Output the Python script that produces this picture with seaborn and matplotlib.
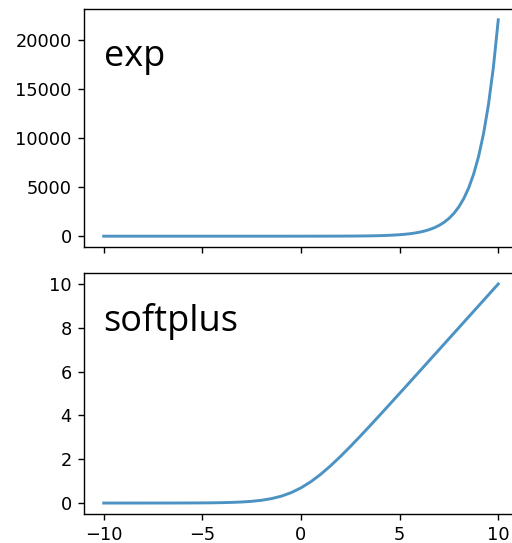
import matplotlib
matplotlib.use("Agg")
import matplotlib.pyplot as plt
import seaborn as sns
import pandas as pd

x_exp = [-10, -9.5, -9, -8.5, -8, -7.5, -7, -6.5, -6, -5.5, -5, -4.5, -4, -3.5, -3, -2.5,
         -2, -1.5, -1, -0.5, 0, 0.5, 1, 1.5, 2, 2.5, 3, 3.5, 4, 4.5, 5, 5.25, 5.5, 5.75,
         6, 6.25, 6.5, 6.75, 7, 7.25, 7.5, 7.75, 8, 8.25, 8.5, 8.75, 9, 9.25, 9.5, 9.75, 10]
y_exp = [4.5e-5, 7.5e-5, 1.23e-4, 2.03e-4, 3.35e-4, 5.53e-4, 9.12e-4, 0.0015, 0.00248,
         0.00409, 0.00674, 0.0111, 0.0183, 0.0302, 0.0498, 0.0821, 0.135, 0.223, 0.368,
         0.607, 1.0, 1.65, 2.72, 4.48, 7.39, 12.2, 20.1, 33.1, 54.6, 90.0, 148.4, 190.6,
         244.7, 314.2, 403.4, 518.0, 665.1, 854.1, 1096.6, 1408.1, 1808.0, 2321.6, 2981.0,
         3827.6, 4914.8, 6310.7, 8103.1, 10404.6, 13359.7, 17154.2, 22026.5]

x_soft = [-10, -9.5, -9, -8.5, -8, -7.5, -7, -6.5, -6, -5.5, -5, -4.5, -4, -3.5, -3, -2.5,
          -2, -1.5, -1, -0.5, 0, 0.5, 1, 1.5, 2, 2.5, 3, 3.5, 4, 4.5, 5, 5.5, 6, 6.5, 7,
          7.5, 8, 8.5, 9, 9.5, 10]
y_soft = [4.5e-5, 7.5e-5, 1.23e-4, 2.03e-4, 3.35e-4, 5.53e-4, 9.11e-4, 0.0015, 0.00248,
          0.00408, 0.00672, 0.0110, 0.0181, 0.0298, 0.0486, 0.0789, 0.1269, 0.2014, 0.3133,
          0.4741, 0.6931, 0.9741, 1.3133, 1.7014, 2.1269, 2.5789, 3.0486, 3.5298, 4.0181,
          4.5110, 5.0067, 5.5041, 6.0025, 6.5015, 7.0009, 7.5006, 8.0003, 8.5002, 9.0001,
          9.5001, 10.0]

titles = ["exp", "softplus"]

plt.rcParams.update({
    "font.size": 12.8,
    "axes.linewidth": 1.0,
    "xtick.major.size": 4.4,
    "ytick.major.size": 4.4,
    "xtick.major.width": 1.0,
    "ytick.major.width": 1.0,
    "xtick.major.pad": 4.4,
    "ytick.major.pad": 4.4,
})

fig = plt.figure(figsize=(5.12, 5.43), dpi=100)
ax1 = fig.add_axes([84/512, 1 - 247/543, (518 - 84)/512, (247 - 9)/543])
ax2 = fig.add_axes([84/512, 1 - 514/543, (518 - 84)/512, (514 - 273)/543], sharex=ax1)

line_kw = dict(color="#1f77b4", alpha=0.8, linewidth=2.1)
sns.lineplot(data=pd.DataFrame({"x": x_exp, "y": y_exp}), x="x", y="y", ax=ax1, **line_kw)
sns.lineplot(data=pd.DataFrame({"x": x_soft, "y": y_soft}), x="x", y="y", ax=ax2, **line_kw)

for ax, t in zip([ax1, ax2], titles):
    ax.set_xlabel("")
    ax.set_ylabel("")
    ax.text(0.045, 0.80, t, transform=ax.transAxes, fontsize=26, family="Open Sans", va="center", ha="left")

ax1.set_xticks([-10, -5, 0, 5, 10])
ax1.tick_params(labelbottom=False)
ax1.set_yticks([0, 5000, 10000, 15000, 20000])
ax2.set_yticks([0, 2, 4, 6, 8, 10])

fig.savefig("out.png", dpi=100)
